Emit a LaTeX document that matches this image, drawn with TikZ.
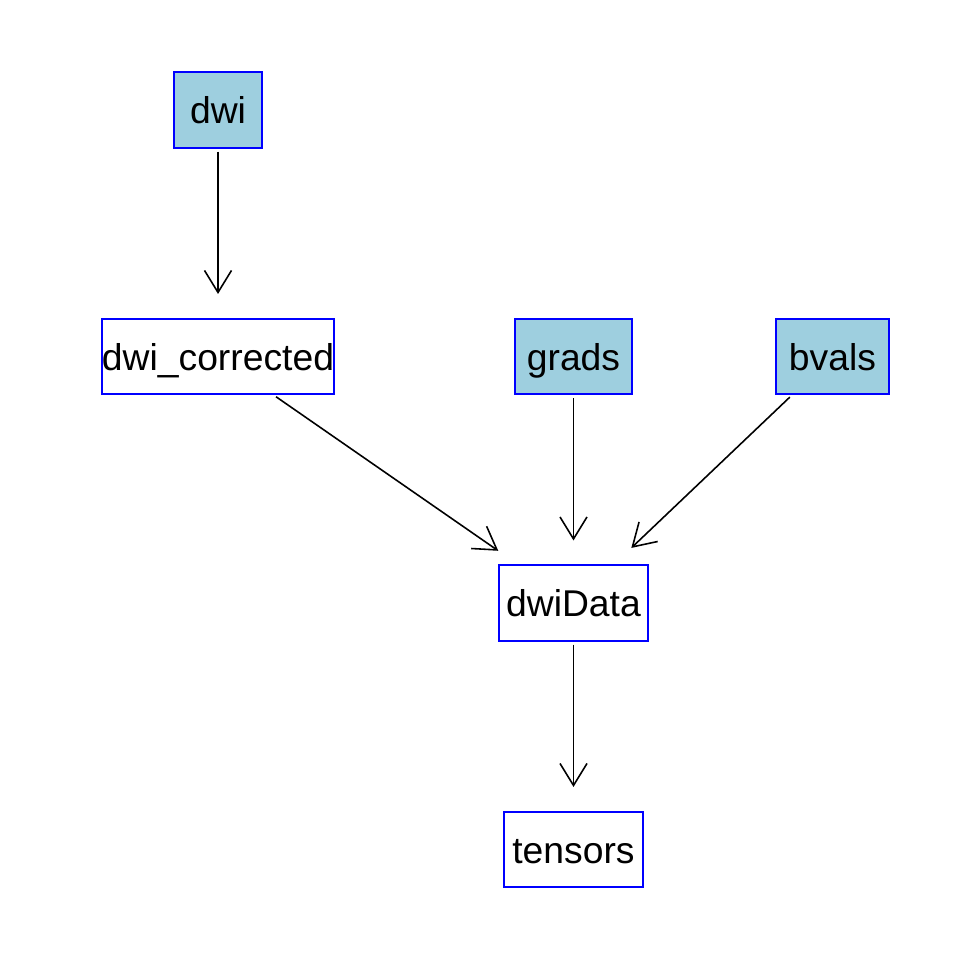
\documentclass[tikz,border=0pt]{standalone}
\usepackage{fontspec}
\setmainfont{Liberation Sans}
\usetikzlibrary{arrows.meta}
\definecolor{boxblue}{RGB}{158,207,223}
\tikzset{
  box/.style={draw=blue,line width=0.57pt,inner sep=0pt,minimum height=0.75cm,
    text height=0.27cm,text depth=0pt,font=\fontsize{10.6}{12}\selectfont},
  link/.style={-{Straight Barb[length=0.22cm,width=0.27cm]},line width=0.45pt,
    shorten <=0.03cm,shorten >=0.24cm}
}
\newcommand{\bluebox}[5]{
\node[box,fill=boxblue,minimum width=#4] (#1) at (#2,#3) {#5};}
\newcommand{\whitebox}[5]{
\node[box,fill=white,minimum width=#4] (#1) at (#2,#3) {#5};}

\begin{document}
\begin{tikzpicture}[x=0.01cm,y=-0.01cm]
\useasboundingbox (0,0) rectangle (960,960);
\bluebox{dwi}{218}{110}{0.88cm}{dwi}
\whitebox{corr}{218}{356.5}{2.27cm}{dwi\_corrected}
\bluebox{grads}{573.5}{356.5}{1.17cm}{grads}
\bluebox{bvals}{832.5}{356.5}{1.13cm}{bvals}
\whitebox{data}{573.5}{603}{1.48cm}{dwiData}
\whitebox{tens}{573.5}{849.5}{1.38cm}{tensors}
\draw[link] (dwi) -- (corr);
\draw[link] (corr) -- (data);
\draw[link] (grads) -- (data);
\draw[link] (bvals) -- (data);
\draw[link] (data) -- (tens);
\end{tikzpicture}
\end{document}
